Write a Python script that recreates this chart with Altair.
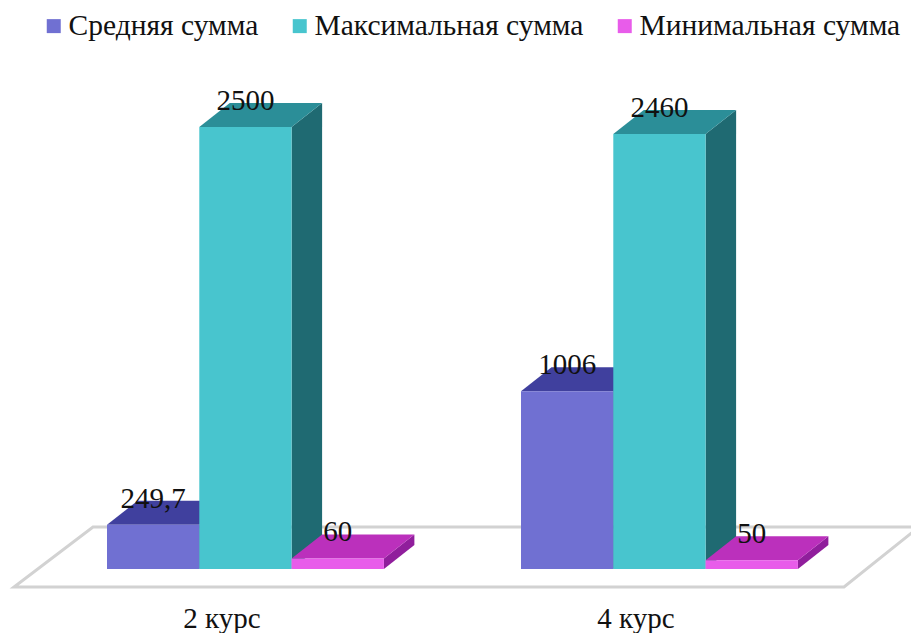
import altair as alt
import pandas as pd

series = ["Средняя сумма", "Максимальная сумма", "Минимальная сумма"]
courses = ["2 курс", "4 курс"]
values = [[249.7, 2500, 60], [1006, 2460, 50]]
labels = [["249,7", "2500", "60"], ["1006", "2460", "50"]]
front = ["#7070D2", "#48C5CE", "#E85CEA"]
top = ["#40409E", "#2B8E98", "#BB30BC"]
side = ["#32327F", "#1F6A72", "#901E9C"]

FONT = "Liberation Serif"
PX_X = 92.3
PX_Y = 0.1768
W, H = 903, 582
group_gap = 414 / PX_X
depth_x = 30.5 / PX_X
depth_y = 24 / PX_Y
x_dom = [(8 - 107) / PX_X, (911 - 107) / PX_X]
y_dom = [-(590 - 569) / PX_Y, (569 - 8) / PX_Y]
xs = alt.Scale(domain=x_dom, nice=False, zero=False)
ys = alt.Scale(domain=y_dom, nice=False, zero=False)

fronts, tops, sides, texts = [], [], [], []
for g, course in enumerate(courses):
    for s, name in enumerate(series):
        v = values[g][s]
        x0 = g * group_gap + s
        x1 = x0 + 1
        key = f"{g}-{s}"
        fronts.append(dict(series=name, x0=x0, x1=x1, v=v, base=0))
        texts.append(dict(x=(x0 + x1) / 2, v=v, label=labels[g][s]))
        e = depth_y
        d = depth_x
        for px, lo, hi in [(x0, v, v), (x0 + d, v, v + e), (x1, v, v + e), (x1 + d, v + e, v + e)]:
            tops.append(dict(key=key, s=s, x=px, lo=lo, hi=hi))
        for px, lo, hi in [(x1, 0, v), (x1 + d, e, v + e)]:
            sides.append(dict(key=key, s=s, x=px, lo=lo, hi=hi))

fr = pd.DataFrame(fronts)
tp = pd.DataFrame(tops)
sd = pd.DataFrame(sides)
tx = pd.DataFrame(texts)

f_low = -(587 - 569) / PX_Y
f_high = (569 - 527) / PX_Y
u = lambda px: (px - 107) / PX_X
floor = pd.DataFrame(
    [
        dict(x=u(14), lo=f_low, hi=f_low),
        dict(x=u(93), lo=f_low, hi=f_high),
        dict(x=u(844), lo=f_low, hi=f_high),
        dict(x=u(919), lo=f_high, hi=f_high),
    ]
)

centers = [g * group_gap + 1.5 - 24 / PX_X for g in range(2)]
label_expr = f"datum.value < {group_gap / 2 + 1.5} ? '{courses[0]}' : '{courses[1]}'"
x_axis = alt.Axis(
    values=centers,
    labelExpr=label_expr,
    domain=False,
    ticks=False,
    grid=False,
    labelFont=FONT,
    labelFontSize=29,
    labelColor="#111111",
    labelPadding=14,
    labelOverlap=False,
    labelFlush=False,
)


def face(df, color):
    return (
        alt.Chart(df)
        .mark_area(color=color, line=False, interpolate="linear")
        .encode(
            x=alt.X("x:Q", scale=xs, axis=x_axis, title=None),
            y=alt.Y("lo:Q", scale=ys, axis=None),
            y2="hi:Q",
            detail="key:N",
        )
    )


floor_layer = (
    alt.Chart(floor)
    .mark_area(fill="white", stroke="#D2D2D2", strokeWidth=3, interpolate="linear")
    .encode(
        x=alt.X("x:Q", scale=xs, axis=x_axis, title=None),
        y=alt.Y("lo:Q", scale=ys, axis=None),
        y2="hi:Q",
    )
)

side_layers = [face(sd[sd.s == i], side[i]) for i in range(3)]
top_layers = [face(tp[tp.s == i], top[i]) for i in range(3)]

front_layer = (
    alt.Chart(fr)
    .mark_rect()
    .encode(
        x=alt.X("x0:Q", scale=xs, title=None, axis=x_axis),
        x2="x1:Q",
        y=alt.Y("v:Q", scale=ys, axis=None),
        y2="base:Q",
        color=alt.Color(
            "series:N",
            scale=alt.Scale(domain=series, range=front),
            sort=series,
            legend=alt.Legend(
                orient="none",
                legendX=31,
                legendY=3,
                padding=0,
                direction="horizontal",
                columns=3,
                columnPadding=26,
                title=None,
                symbolType="square",
                symbolSize=196,
                symbolStrokeWidth=0,
                labelFont=FONT,
                labelFontSize=29.5,
                labelColor="#111111",
                labelOffset=0,
                labelLimit=400,
            ),
        ),
    )
)

text_layer = (
    alt.Chart(tx)
    .mark_text(font=FONT, fontSize=29, color="#111111", baseline="middle", dy=-26)
    .encode(
        x=alt.X("x:Q", scale=xs, axis=x_axis, title=None),
        y=alt.Y("v:Q", scale=ys, axis=None),
        text="label:N",
    )
)

chart = (
    alt.layer(floor_layer, *side_layers, *top_layers, front_layer, text_layer)
    .properties(
        width=W,
        height=H,
        autosize=alt.AutoSizeParams(type="none"),
        padding={"left": 0, "top": 0, "right": 0, "bottom": 43},
    )
    .configure_view(stroke=None)
)

chart.save("out.html", embed_options={"renderer": "svg", "actions": False})
